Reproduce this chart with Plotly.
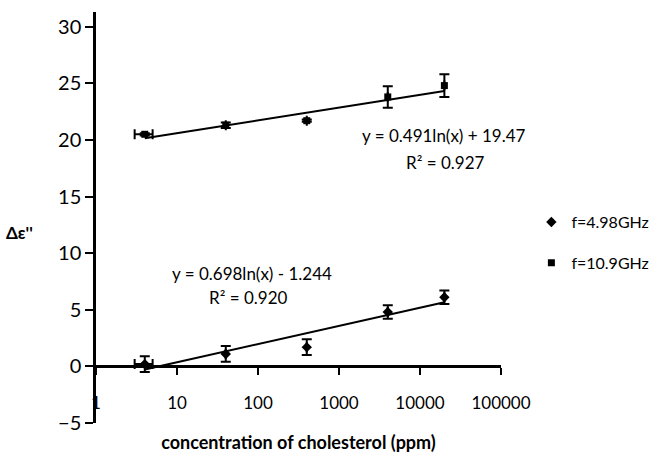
import math
import plotly.graph_objects as go

# ---- data ----
conc = [4, 40, 400, 4000, 20000]          # ppm
conc_err = [1, 0, 0, 0, 0]

s1_name = "f=4.98GHz"
s1_y = [0.2, 1.1, 1.7, 4.8, 6.1]
s1_err = [0.7, 0.7, 0.7, 0.6, 0.6]

s2_name = "f=10.9GHz"
s2_y = [20.5, 21.3, 21.7, 23.8, 24.8]
s2_err = [0.1, 0.25, 0.1, 0.95, 1.0]

# displayed logarithmic trendline coefficients: y = a ln(x) + b
s1_fit = (0.698, -1.244, 0.920)
s2_fit = (0.491, 19.47, 0.927)

x_ticks = [1, 10, 100, 1000, 10000, 100000]
y_ticks = [-5, 0, 5, 10, 15, 20, 25, 30]

FONT = "Lato"
BLACK = "#000000"

fig = go.Figure()

def trend(fit):
    a, b, _ = fit
    xs = [conc[0], conc[-1]]
    return xs, [a * math.log(v) + b for v in xs]

for fit in (s1_fit, s2_fit):
    tx, ty = trend(fit)
    fig.add_trace(go.Scatter(x=tx, y=ty, mode="lines", xaxis="x2",
                             line=dict(color=BLACK, width=2),
                             showlegend=False, hoverinfo="skip"))

fig.add_trace(go.Scatter(
    x=conc, y=s1_y, mode="markers", name=s1_name, legendgroup="a",
    marker=dict(symbol="diamond", size=8, color=BLACK),
    error_y=dict(type="data", array=s1_err, color=BLACK, thickness=2, width=5),
    error_x=dict(type="data", array=conc_err, color=BLACK, thickness=2, width=5),
))
fig.add_trace(go.Scatter(
    x=conc, y=s2_y, mode="markers", name=s2_name, legendgroup="b",
    marker=dict(symbol="square", size=7, color=BLACK),
    error_y=dict(type="data", array=s2_err, color=BLACK, thickness=2, width=5),
    error_x=dict(type="data", array=conc_err, color=BLACK, thickness=2, width=5),
))

y_lo, y_hi = -5, 31.3
zero_pos = (0 - y_lo) / (y_hi - y_lo)

def eq_lines(fit):
    a, b, r2 = fit
    sign = "+" if b >= 0 else "-"
    return f"y = {a:.3f}ln(x) {sign} {abs(b):g}", f"R² = {r2:.3f}"

eq2a, eq2b = eq_lines(s2_fit)
eq1a, eq1b = eq_lines(s1_fit)

def ann(text, x, y):
    return dict(text=text, xref="paper", yref="y", x=x, y=y,
                showarrow=False, font=dict(size=17), xanchor="center",
                yanchor="middle")

fig.update_layout(
    width=658, height=453,
    margin=dict(l=96, r=157, t=12, b=30, autoexpand=False),
    paper_bgcolor="white", plot_bgcolor="white",
    font=dict(family=FONT, color=BLACK, size=17),
    xaxis=dict(type="log", range=[0, 5], tickvals=x_ticks,
               ticktext=[str(v) for v in x_ticks],
               showgrid=False, zeroline=False, showline=False, ticks="",
               anchor="free", position=0.078,
               tickfont=dict(size=17),
               title=dict(text="<b>concentration of cholesterol (ppm)</b>",
                          font=dict(size=18), standoff=26)),
    xaxis2=dict(type="log", range=[0, 5], overlaying="x", anchor="free",
                position=zero_pos, side="bottom", tickvals=x_ticks,
                showticklabels=False, showgrid=False, zeroline=False,
                showline=True, linecolor=BLACK, linewidth=2.5,
                ticks="outside", ticklen=7, tickwidth=1.5, tickcolor=BLACK),
    yaxis=dict(range=[y_lo, y_hi], tickvals=y_ticks, showgrid=False,
               zeroline=False, showline=True, linecolor=BLACK, linewidth=2.5,
               ticks="outside", ticklen=8, tickwidth=2, tickcolor=BLACK,
               tickfont=dict(size=20)),
    legend=dict(x=1.075, y=0.53, xanchor="left", yanchor="top",
                font=dict(size=16), tracegroupgap=17, itemwidth=30,
                bgcolor="rgba(0,0,0,0)"),
    showlegend=True,
    annotations=[
        dict(text="<b>Δε''</b>", xref="paper", yref="paper",
             x=-0.19, y=(366 - 232) / 411 + zero_pos, showarrow=False,
             font=dict(size=17), xanchor="center", yanchor="middle"),
        ann(eq2a, 0.859, 20.4),
        ann(eq2b, 0.862, 18.0),
        ann(eq1a, 0.385, 8.2),
        ann(eq1b, 0.375, 6.1),
    ],
)

fig.write_html("out.html")
